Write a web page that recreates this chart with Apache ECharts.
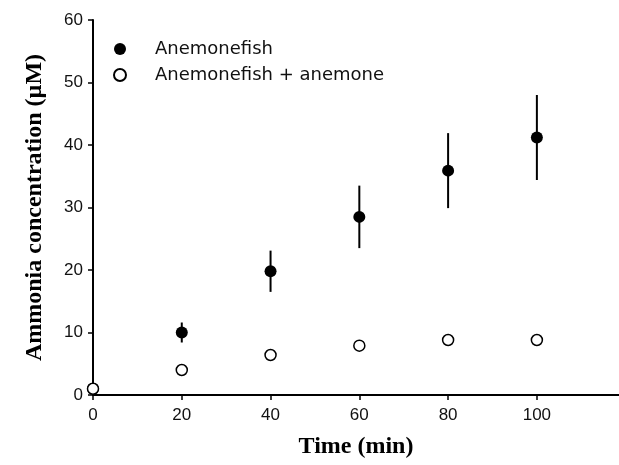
<!DOCTYPE html>
<html>
<head>
<meta charset="utf-8">
<script src="https://cdn.jsdelivr.net/npm/echarts@6/dist/echarts.min.js"></script>
<style>
  html, body { margin: 0; padding: 0; background: #fff; }
  #drew { width: 619px; height: 465px; }
</style>
</head>
<body>
<div id="drew"></div>
<script>
   // time points (min)
   var times = [0, 20, 40, 60, 80, 100];
   // ammonia concentration (uM), mean and +/- error
   var fishMean = [1, 10, 19.8, 28.5, 35.9, 41.2];
   var fishErr = [0, 1.6, 3.3, 5, 6, 6.8];
   var fishAnemone = [1, 4, 6.4, 7.9, 8.8, 8.8];

   var fishData = times.map(function (t, i) { return [t, fishMean[i]]; });
   var errData = times.map(function (t, i) { return [t, fishMean[i] - fishErr[i], fishMean[i] + fishErr[i]]; });
   var anemData = times.map(function (t, i) { return [t, fishAnemone[i]]; });

   var myChart = echarts.init(document.getElementById('drew'));
   var option = {
       backgroundColor: '#fff',
       animation: false,
       grid: { left: 93, top: 20, bottom: 70, right: 0 },
       legend: {
           orient: 'vertical',
           left: 108,
           top: 35,
           itemGap: 8,
           itemWidth: 14,
           itemHeight: 12,
           textStyle: {
               fontFamily: 'DejaVu Sans', fontSize: 18, lineHeight: 18, color: '#111',
               padding: [0, 0, 0, 23]
           },
           data: ['Anemonefish', 'Anemonefish + anemone']
       },
       xAxis: {
           type: 'value',
           min: 0,
           max: 118.5,
           interval: 20,
           name: 'Time (min)',
           nameLocation: 'middle',
           nameGap: 40,
           nameTextStyle: { fontFamily: 'Liberation Serif', fontSize: 24, fontWeight: 'bold', color: '#000' },
           axisLine: { lineStyle: { color: '#000', width: 2 } },
           axisTick: { lineStyle: { color: '#000', width: 1.5 }, length: 5 },
           axisLabel: {
               fontFamily: 'Liberation Sans', fontSize: 17, color: '#111', margin: 12,
               showMaxLabel: false
           },
           splitLine: { show: false }
       },
       yAxis: {
           type: 'value',
           min: 0,
           max: 60,
           interval: 10,
           name: 'Ammonia concentration (\u00b5M)',
           nameLocation: 'middle',
           nameGap: 46,
           nameTextStyle: { fontFamily: 'Liberation Serif', fontSize: 24, fontWeight: 'bold', color: '#000' },
           axisLine: { show: true, lineStyle: { color: '#000', width: 2 } },
           axisTick: { show: true, lineStyle: { color: '#000', width: 1.5 }, length: 5 },
           axisLabel: { fontFamily: 'Liberation Sans', fontSize: 17, color: '#111', margin: 10 },
           splitLine: { show: false }
       },
       series: [{
           type: 'custom',
           name: 'err',
           silent: true,
           data: errData,
           z: 1,
           renderItem: function (params, api) {
               var x = api.value(0);
               var lo = api.coord([x, api.value(1)]);
               var hi = api.coord([x, api.value(2)]);
               return {
                   type: 'line',
                   shape: { x1: lo[0], y1: lo[1], x2: hi[0], y2: hi[1] },
                   style: { stroke: '#000', lineWidth: 2 }
               };
           }
       }, {
           type: 'scatter',
           name: 'Anemonefish',
           data: fishData,
           symbol: 'circle',
           symbolSize: 12,
           z: 2,
           itemStyle: { color: '#000', opacity: 1 }
       }, {
           type: 'scatter',
           name: 'Anemonefish + anemone',
           data: anemData,
           symbol: 'circle',
           symbolSize: 11,
           z: 3,
           itemStyle: { color: '#fff', borderColor: '#000', borderWidth: 1.5, opacity: 1 }
       }]
   };
   myChart.setOption(option);
</script>
</body>
</html>
